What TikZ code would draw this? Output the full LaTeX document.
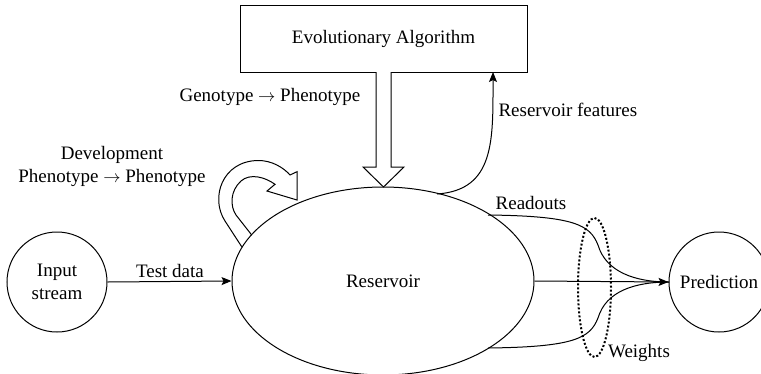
\documentclass[tikz,border=0pt]{standalone}
\usepackage{fontspec}
\setmainfont{Liberation Serif}
\usetikzlibrary{arrows.meta,shapes.geometric}
\begin{document}
\begin{tikzpicture}[x=1pt,y=-1pt,line width=1pt,
  every node/.style={font=\fontsize{19}{23}\selectfont, inner sep=0pt},
  tip/.style={-{Stealth[length=10pt,width=8pt,inset=2pt]}},
  hollow/.style={draw, fill=white, line width=1pt}]
\useasboundingbox (0,0) rectangle (761,373);
% nodes
\node[draw, minimum width=287pt, minimum height=67pt] (ea) at (383.5,38.5) {Evolutionary Algorithm};
\node[draw, ellipse, minimum width=302pt, minimum height=188pt] (res) at (383,281) {Reservoir};
\node[draw, circle, minimum size=100pt, align=center] (inp) at (57,282) {Input\\stream};
\node[draw, circle, minimum size=100pt] (pred) at (719,282) {Prediction};
\node[draw, ellipse, dotted, line width=2pt, minimum width=33pt, minimum height=139pt] (w) at (594.5,287.5) {};
% labels
\node (lgp) at (270,97) {Genotype $\rightarrow$ Phenotype};
\node[align=center] (ldev) at (112,166) {Development\\Phenotype $\rightarrow$ Phenotype};
\node[anchor=west] (lrf) at (498,110) {Reservoir features};
\node (lro) at (531,203) {Readouts};
\node (lw) at (639,353) {Weights};
\node (ltd) at (170,271) {Test data};
% coordinates
\coordinate (rf0) at (437,194);
\coordinate (rf1) at (493,72);
\coordinate (ro1) at (488,215);
\coordinate (ro2) at (488,348);
\coordinate (pt) at (669,282);
% connectors
\draw[tip] (inp.east) -- (res.west);
\draw[tip] (res.east) -- (pred.west);
\draw[tip] (rf0) .. controls (495,190) and (493,140) .. (rf1);
\draw (ro1) .. controls (575,216) and (590,225) .. (598,245) .. controls (606,272) and (635,282) .. (pt);
\draw (ro2) .. controls (575,347) and (590,338) .. (598,318) .. controls (606,291) and (635,282) .. (pt);
% hollow down arrow
\draw[hollow, line join=miter] (376,72) -- (376,167) -- (363,167) -- (383.5,187) -- (404,167) -- (391,167) -- (391,72);
% curved hollow arrow
\draw[line join=miter] (241.7,246.7) -- (225,221) .. controls (210,198) and (222,161) .. (258,160.5)
  .. controls (272,160.3) and (284,168) .. (290,175) -- (297,171.7) -- (297,200) -- (267,191) -- (275,184.3)
  .. controls (265,177) and (250,173) .. (241,181) .. controls (230,191) and (230,206) .. (236,215) -- (251.7,235);
\end{tikzpicture}
\end{document}
